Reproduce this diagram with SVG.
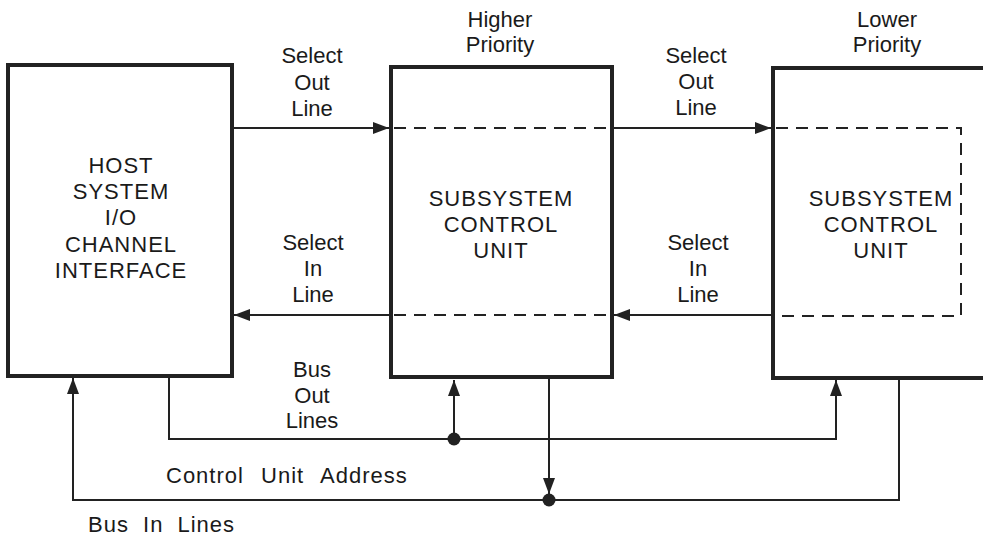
<svg xmlns="http://www.w3.org/2000/svg" width="983" height="540" viewBox="0 0 983 540">
<style>
.box{fill:none;stroke:#222;stroke-width:4}
.ln{fill:none;stroke:#222;stroke-width:2}
.dash{fill:none;stroke:#222;stroke-width:2;stroke-dasharray:12 8}
.t{font-family:"Liberation Sans",Arial,sans-serif;font-size:22px;fill:#1a1a1a;text-anchor:middle}
.c{letter-spacing:1px}
</style>
<defs>
<marker id="ah" markerUnits="userSpaceOnUse" markerWidth="17" markerHeight="12" refX="16" refY="6" orient="auto">
<path d="M0,0 L16,6 L0,12 z" fill="#222"/>
</marker>
</defs>
<rect width="983" height="540" fill="#fff"/>

<g id="host">
<rect class="box" x="8" y="65" width="224" height="311"/>
<text class="t c" x="121" y="173">HOST</text>
<text class="t c" x="121" y="199">SYSTEM</text>
<text class="t c" x="121" y="225">I/O</text>
<text class="t c" x="121" y="252">CHANNEL</text>
<text class="t c" x="121" y="278">INTERFACE</text>
</g>

<g id="scu1">
<rect class="box" x="391" y="67" width="221" height="310"/>
<text class="t c" x="501" y="206">SUBSYSTEM</text>
<text class="t c" x="501" y="232">CONTROL</text>
<text class="t c" x="501" y="258">UNIT</text>
<text class="t" x="500" y="27">Higher</text>
<text class="t" x="500" y="52">Priority</text>
<line class="dash" x1="394" y1="128" x2="610" y2="128"/>
<line class="dash" x1="394" y1="315" x2="610" y2="315"/>
</g>

<g id="scu2">
<rect class="box" x="773" y="68" width="222" height="310"/>
<text class="t c" x="881" y="206">SUBSYSTEM</text>
<text class="t c" x="881" y="232">CONTROL</text>
<text class="t c" x="881" y="258">UNIT</text>
<text class="t" x="887" y="27">Lower</text>
<text class="t" x="887" y="52">Priority</text>
<path class="dash" d="M776,128 H961 V316 H776"/>
</g>

<g id="connectors">
<line class="ln" x1="233" y1="128" x2="389" y2="128" marker-end="url(#ah)"/>
<line class="ln" x1="613" y1="128" x2="771" y2="128" marker-end="url(#ah)"/>
<line class="ln" x1="390" y1="315" x2="234" y2="315" marker-end="url(#ah)"/>
<line class="ln" x1="772" y1="315" x2="614" y2="315" marker-end="url(#ah)"/>
<path class="ln" d="M169,377 V439 H836 V380" marker-end="url(#ah)"/>
<path class="ln" d="M454,439 V380" marker-end="url(#ah)"/>
<path class="ln" d="M549,378 V494" marker-end="url(#ah)"/>
<path class="ln" d="M899,378 V500 H73 V378" marker-end="url(#ah)"/>
<circle cx="454" cy="439" r="6.5" fill="#222"/>
<circle cx="549" cy="500" r="6.5" fill="#222"/>
<text class="t" x="312" y="63">Select</text>
<text class="t" x="312" y="90">Out</text>
<text class="t" x="312" y="116">Line</text>
<text class="t" x="696" y="63">Select</text>
<text class="t" x="696" y="89">Out</text>
<text class="t" x="696" y="115">Line</text>
<text class="t" x="313" y="250">Select</text>
<text class="t" x="313" y="276">In</text>
<text class="t" x="313" y="302">Line</text>
<text class="t" x="698" y="250">Select</text>
<text class="t" x="698" y="276">In</text>
<text class="t" x="698" y="302">Line</text>
<text class="t" x="312" y="377">Bus</text>
<text class="t" x="312" y="403">Out</text>
<text class="t" x="312" y="428">Lines</text>
<text class="t" x="166" y="483" style="text-anchor:start;letter-spacing:1px;word-spacing:10px">Control Unit Address</text>
<text class="t" x="88" y="532" style="text-anchor:start;letter-spacing:1px;word-spacing:7px">Bus In Lines</text>
</g>
</svg>
